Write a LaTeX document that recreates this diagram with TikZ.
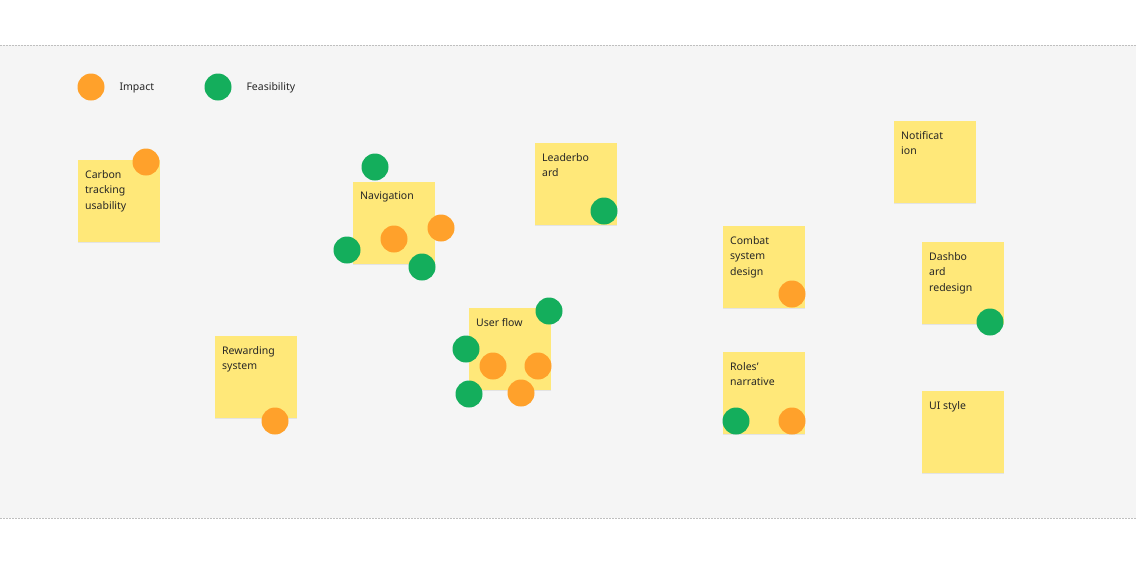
\documentclass[tikz,border=0pt]{standalone}
\usepackage{fontspec}
\setmainfont{Noto Sans}
\usetikzlibrary{positioning}
\definecolor{stickyyellow}{HTML}{FFE879}
\definecolor{dotorange}{HTML}{FFA12B}
\definecolor{dotgreen}{HTML}{14AE5C}
\definecolor{bandgray}{HTML}{F5F5F5}
\tikzset{
  sticky/.style={rectangle, draw=none, fill=stickyyellow, minimum size=82pt, inner sep=0pt, anchor=north west,
    drop shadow={shadow xshift=0pt, shadow yshift=-1pt, opacity=0.15}},
  note/.style={anchor=north west, align=left, font=\fontsize{10.5}{15.5}\selectfont, text=black!85, inner sep=0pt, xshift=7pt, yshift=-10pt},
  impact/.style={circle, fill=dotorange, minimum size=27pt, inner sep=0pt},
  feasible/.style={circle, fill=dotgreen, minimum size=27pt, inner sep=0pt},
  legend/.style={anchor=west, font=\fontsize{10.5}{12}\selectfont, text=black!85}
}
\usetikzlibrary{shadows}
\begin{document}
\begin{tikzpicture}[x=1pt,y=-1pt]
  \useasboundingbox (0,0) rectangle (1136,563);
  \fill[bandgray] (0,45) rectangle (1136,518);
  \draw[black!25, dashed, dash pattern=on 2pt off 1pt] (0,45) -- (1136,45);
  \draw[black!25, dashed, dash pattern=on 2pt off 1pt] (0,518) -- (1136,518);
  % legend
  \node[impact] (legImpact) at (91,87) {};
  \node[legend] (legImpactText) at (116,88) {Impact};
  \node[feasible] (legFeas) at (218,87) {};
  \node[legend] (legFeasText) at (243,88) {Feasibility};
  % stickies
  \node[sticky] (carbon) at (78,160) {};
  \node[note] at (carbon.north west) {Carbon\\tracking\\usability};
  \node[sticky] (nav) at (353,182) {};
  \node[note] at (nav.north west) {Navigation};
  \node[sticky] (leader) at (535,143) {};
  \node[note] at (leader.north west) {Leaderbo\\ard};
  \node[sticky] (reward) at (215,336) {};
  \node[note] at (reward.north west) {Rewarding\\system};
  \node[sticky] (userflow) at (469,308) {};
  \node[note] at (userflow.north west) {User flow};
  \node[sticky] (combat) at (723,226) {};
  \node[note] at (combat.north west) {Combat\\system\\design};
  \node[sticky] (roles) at (723,352) {};
  \node[note] at (roles.north west) {Roles'\\narrative};
  \node[sticky] (notif) at (894,121) {};
  \node[note] at (notif.north west) {Notificat\\ion};
  \node[sticky] (dash) at (922,242) {};
  \node[note] at (dash.north west) {Dashbo\\ard\\redesign};
  \node[sticky] (uistyle) at (922,391) {};
  \node[note] at (uistyle.north west) {UI style};
  % votes
  \node[impact] (carbonI) at (146,162) {};
  \node[feasible] (navF1) at (375,167) {};
  \node[impact] (navI1) at (441,228) {};
  \node[impact] (navI2) at (394,239) {};
  \node[feasible] (navF2) at (347,250) {};
  \node[feasible] (navF3) at (422,267) {};
  \node[feasible] (leaderF) at (604,211) {};
  \node[impact] (rewardI) at (275,421) {};
  \node[feasible] (flowF1) at (549,311) {};
  \node[feasible] (flowF2) at (466,349) {};
  \node[impact] (flowI1) at (493,366) {};
  \node[impact] (flowI2) at (538,366) {};
  \node[feasible] (flowF3) at (469,394) {};
  \node[impact] (flowI3) at (521,393) {};
  \node[impact] (combatI) at (792,294) {};
  \node[feasible] (rolesF) at (736,421) {};
  \node[impact] (rolesI) at (792,421) {};
  \node[feasible] (dashF) at (990,322) {};
\end{tikzpicture}
\end{document}
